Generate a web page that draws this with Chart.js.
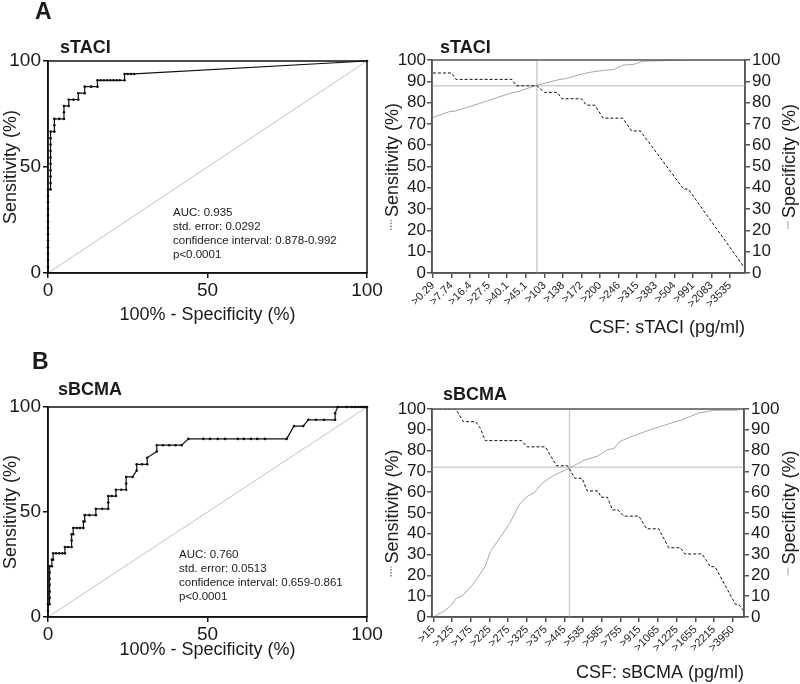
<!DOCTYPE html>
<html>
<head>
<meta charset="utf-8">
<script src="https://cdn.jsdelivr.net/npm/chart.js@4.4.1/dist/chart.umd.min.js"></script>
<style>
  body { margin: 0; background: #fff; }
  #page { position: relative; width: 800px; height: 684px; overflow: hidden; }
  #page canvas { position: absolute; }
</style>
</head>
<body>
<div id="page">
  <canvas id="rocTaci" width="390" height="340" style="left:0;top:0"></canvas>
  <canvas id="cutTaci" width="420" height="340" style="left:380px;top:0"></canvas>
  <canvas id="rocBcma" width="390" height="344" style="left:0;top:340px"></canvas>
  <canvas id="cutBcma" width="420" height="344" style="left:380px;top:340px"></canvas>
</div>
<script>
const FONT = '"Liberation Sans", Arial, sans-serif';
Chart.defaults.font.family = FONT;
Chart.defaults.color = '#1a1a1a';

// --- ROC curves (x = 100% - specificity, y = sensitivity) ---
const taciRocX = [0, 0, 0, 0, 0, 0, 0, 0, 0, 0, 0, 0, 0, 0,
    0.8, 0.8, 0.8, 0.8, 0.8, 0.8, 0.8, 0.8, 0.8, 0.8,
    2.0, 2.0, 2.0, 3.5, 5.0, 5.0, 5.0, 6.5, 6.5, 8.0, 9.5, 9.5, 11.5, 11.5, 13.5, 15.5, 15.5,
    16.5, 17.5, 18.5, 19.5, 20.5, 21.5, 22.5, 24.0, 24.0, 25.0, 26.0, 27.0, 100];
const taciRocY = [0, 3.0, 6.1, 9.1, 12.1, 15.2, 18.2, 21.2, 24.2, 27.3, 30.3, 33.3, 36.4, 39.4,
    39.4, 42.4, 45.5, 48.5, 51.5, 54.5, 57.6, 60.6, 63.6, 66.7,
    66.7, 69.7, 72.7, 72.7, 72.7, 75.8, 78.8, 78.8, 81.8, 81.8, 81.8, 84.8, 84.8, 87.9, 87.9, 87.9, 90.9,
    90.9, 90.9, 90.9, 90.9, 90.9, 90.9, 90.9, 90.9, 93.9, 93.9, 93.9, 93.9, 100];

const bcmaRocX = [0, 0, 0, 0.5, 0.5, 0.5, 0.5, 0.5, 0.5, 0.5, 1.2, 1.2, 1.6, 1.6, 2.5, 3.5, 4.5, 5.3, 5.3,
    6.3, 7.4, 7.4, 7.4, 7.9, 7.9, 9.0, 10.0, 11.1, 11.1, 11.5, 11.5, 13.0, 15.0, 15.0, 17.0, 18.9, 18.9, 18.9,
    20.0, 21.3, 21.3, 23.0, 24.5, 24.5, 24.5, 26.5, 27.8, 27.8, 29.5, 31.1, 31.1, 34.1, 34.1, 36.0, 38.0, 40.0,
    41.9, 44.0, 48.7, 50.8, 53.2, 55.5, 59.5, 61.4, 63.6, 65.6, 68.0, 74.8, 77.1, 80.0, 81.6, 84.0, 86.5, 90.0,
    90.0, 90.8, 93.6, 95.2, 96.2, 97.3, 98.0, 98.8, 99.4, 100];
const bcmaRocY = [0, 3.0, 6.1, 6.1, 9.1, 12.1, 15.2, 18.2, 21.2, 24.2, 24.2, 27.3, 27.3, 30.3, 30.3, 30.3, 30.3, 30.3, 33.3,
    33.3, 33.3, 36.4, 39.4, 39.4, 42.4, 42.4, 42.4, 42.4, 45.5, 45.5, 48.5, 48.5, 48.5, 51.5, 51.5, 51.5, 54.5, 57.6,
    57.6, 57.6, 60.6, 60.6, 60.6, 63.6, 66.7, 66.7, 69.7, 72.7, 72.7, 72.7, 75.8, 78.8, 81.8, 81.8, 81.8, 81.8,
    81.8, 84.8, 84.8, 84.8, 84.8, 84.8, 84.8, 84.8, 84.8, 84.8, 84.8, 84.8, 90.9, 90.9, 93.9, 93.9, 93.9, 93.9,
    97.0, 100, 100, 100, 100, 100, 100, 100, 100, 100];

const chanceLine = [0, 100];
const rocTicks = [0, 50, 100];

const taciStats = ['AUC: 0.935', 'std. error: 0.0292', 'confidence interval: 0.878-0.992', 'p<0.0001'];
const bcmaStats = ['AUC: 0.760', 'std. error: 0.0513', 'confidence interval: 0.659-0.861', 'p<0.0001'];

// --- Sensitivity / specificity per cut-off (x = position along the cut-off axis) ---
const taciCutoffs = ['>0.29', '>7.74', '>16.4', '>27.5', '>40.1', '>45.1', '>103', '>138', '>172',
    '>200', '>246', '>315', '>383', '>504', '>991', '>2083', '>3535'];
const taciSensPos = [0, 1.0, 1.24, 4.25, 4.5, 5.6, 6.0, 6.7, 6.95, 8.0, 8.27, 8.72, 9.17, 10.22, 10.7, 11.17, 13.5, 13.75, 16.74];
const taciSensVal = [93.9, 93.9, 90.9, 90.9, 87.9, 87.9, 84.8, 84.8, 81.8, 81.8, 78.8, 78.8, 72.7, 72.7, 66.7, 66.7, 39.4, 39.4, 3.0];
const taciSpecPos = [0, 0.9, 1.2, 2.5, 4.25, 4.6, 5.6, 6.85, 7.15, 8.1, 8.65, 9.4, 9.75, 10.25, 10.85, 11.3, 12.0, 13.7, 16.8];
const taciSpecVal = [73.0, 75.8, 76.0, 79.6, 84.6, 85.2, 88.2, 90.9, 91.2, 93.6, 94.5, 95.3, 95.5, 97.6, 98.0, 99.4, 99.6, 100, 100];
const taciCross = [5.6, 87.9];
const taciRange = [-0.05, 16.81];

const bcmaCutoffs = ['>15', '>125', '>175', '>225', '>275', '>325', '>375', '>445', '>535',
    '>585', '>755', '>915', '>1065', '>1225', '>1655', '>2215', '>3950'];
const bcmaSensPos = [0, 1.2, 1.6, 2.26, 2.5, 2.78, 4.72, 5.0, 5.98, 6.59, 7.17, 7.56, 7.95, 8.22, 8.8, 8.96,
    9.3, 9.57, 9.86, 10.17, 10.98, 11.4, 12.04, 12.58, 13.2, 13.45, 14.36, 14.8, 15.05, 16.14, 16.32, 16.58];
const bcmaSensVal = [100, 100, 93.9, 93.9, 90.9, 84.8, 84.8, 81.8, 81.8, 72.7, 72.7, 66.7, 66.7, 60.6, 60.6, 57.6,
    57.6, 51.5, 51.5, 48.5, 48.5, 42.4, 42.4, 33.3, 33.3, 30.3, 30.3, 24.2, 24.2, 6.1, 6.1, 3.0];
const bcmaSpecPos = [0, 0.55, 0.9, 1.23, 1.53, 2.0, 2.35, 2.8, 3.05, 3.6, 4.08, 4.6, 5.02, 5.4, 5.75, 6.1, 6.46,
    7.27, 8.06, 8.78, 9.31, 9.66, 9.93, 10.55, 11.27, 12.33, 13.22, 14.2, 15.0, 16.25];
const bcmaSpecVal = [0, 2.7, 5.0, 9.0, 10.0, 14.5, 18.5, 25.0, 31.5, 38.6, 45.0, 54.2, 58.1, 59.7, 63.8, 66.1, 68.2,
    71.6, 75.4, 77.3, 80.5, 81.0, 84.2, 86.6, 89.0, 92.2, 94.6, 98.1, 99.4, 99.4];
const bcmaCross = [7.28, 72.0];
const bcmaRange = [-0.07, 16.6];

const percentTicks = [0, 10, 20, 30, 40, 50, 60, 70, 80, 90, 100];

// Helper to pair x and y lists into chart points
const zip = (xs, ys) => xs.map((x, i) => ({ x, y: ys[i] }));

// Box around the plot area (GraphPad style frame)
const framePlugin = {
    id: 'frame',
    afterDatasetsDraw(chart, args, opts) {
        const { ctx, chartArea: a } = chart;
        ctx.save();
        ctx.strokeStyle = opts.color;
        ctx.lineWidth = opts.width;
        ctx.strokeRect(a.left, a.top, a.right - a.left, a.bottom - a.top);
        ctx.restore();
    }
};

// Free text (panel letters, titles, stats) and rotated axis titles with a line sample
const textPlugin = {
    id: 'panelText',
    afterDraw(chart, args, opts) {
        const ctx = chart.ctx;
        (opts.items || []).forEach(t => {
            ctx.save();
            ctx.font = t.font;
            ctx.fillStyle = '#1a1a1a';
            ctx.textAlign = 'left';
            ctx.textBaseline = 'middle';
            ctx.fillText(t.text, t.x, t.y);
            ctx.restore();
        });
        (opts.axisTitles || []).forEach(t => {
            const a = chart.chartArea;
            const cy = (a.top + a.bottom) / 2;
            ctx.save();
            ctx.font = '18px ' + FONT;
            const tw = ctx.measureText(t.text).width;
            const total = t.sample + 3 + tw;
            ctx.translate(t.x, cy);
            ctx.rotate(-Math.PI / 2);
            ctx.strokeStyle = t.color;
            ctx.lineWidth = 1;
            ctx.setLineDash(t.dash || []);
            ctx.beginPath();
            ctx.moveTo(-total / 2, -2);
            ctx.lineTo(-total / 2 + t.sample, -2);
            ctx.stroke();
            ctx.setLineDash([]);
            ctx.fillStyle = '#1a1a1a';
            ctx.textAlign = 'left';
            ctx.textBaseline = 'middle';
            ctx.fillText(t.text, -total / 2 + t.sample + 3, 0);
            ctx.restore();
        });
    }
};

const axisLook = (color) => ({
    grid: { display: true, drawOnChartArea: false, drawTicks: true, tickLength: 5, color: color, lineWidth: 1.5 },
    border: { display: true, color: color, width: 1.5 }
});

const statsItems = (lines, x, y0) => lines.map((text, i) => ({ text, x, y: y0 + i * 14, font: '11.5px ' + FONT }));

// --- ROC panel ---
const makeRoc = (id, xs, ys, cfg) => new Chart(document.getElementById(id), {
    type: 'scatter',
    data: {
        datasets: [
            {
                data: zip(xs, ys), showLine: true, borderColor: '#111', borderWidth: 1.2,
                pointRadius: 1.3, pointBackgroundColor: '#111', pointBorderWidth: 0, clip: 4
            },
            { data: zip(chanceLine, chanceLine), showLine: true, borderColor: '#c4c4c4', borderWidth: 1, pointRadius: 0 }
        ]
    },
    options: {
        responsive: false,
        animation: false,
        events: [],
        layout: { padding: { left: 0, top: cfg.top, right: 23, bottom: 0 } },
        plugins: {
            legend: { display: false },
            tooltip: { enabled: false },
            frame: { color: '#111', width: 1.5 },
            panelText: { items: cfg.texts }
        },
        scales: {
            x: {
                type: 'linear', min: 0, max: 100,
                afterBuildTicks: s => { s.ticks = rocTicks.map(v => ({ value: v })); },
                ticks: { font: { size: 19 }, padding: 1, maxRotation: 0, autoSkip: false, color: '#1a1a1a' },
                title: { display: true, text: '100% - Specificity (%)', font: { size: 18 }, padding: { top: 0, bottom: cfg.titlePad } },
                afterFit: s => { s.height = cfg.xHeight; s.paddingLeft = 0; s.paddingRight = 0; },
                ...axisLook('#111')
            },
            y: {
                type: 'linear', min: 0, max: 100,
                afterBuildTicks: s => { s.ticks = rocTicks.map(v => ({ value: v })); },
                ticks: { font: { size: 19 }, padding: 2, autoSkip: false, color: '#1a1a1a' },
                title: { display: true, text: 'Sensitivity (%)', font: { size: 18 }, padding: { top: 0, bottom: 0 } },
                afterFit: s => { s.width = 48; s.paddingTop = 0; s.paddingBottom = 0; },
                ...axisLook('#111')
            }
        }
    },
    plugins: [framePlugin, textPlugin]
});

// --- Sensitivity/specificity vs cut-off panel ---
const makeCutoff = (id, cuts, sensPos, sensVal, specPos, specVal, cross, range, cfg) => new Chart(document.getElementById(id), {
    type: 'scatter',
    data: {
        datasets: [
            { data: zip(sensPos, sensVal), showLine: true, borderColor: '#111', borderWidth: 1, borderDash: [3, 2], pointRadius: 0, yAxisID: 'y' },
            { data: zip(specPos, specVal), showLine: true, borderColor: '#a8a8a8', borderWidth: 1, pointRadius: 0, yAxisID: 'y2' },
            { data: zip([cross[0], cross[0]], chanceLine), showLine: true, borderColor: '#cfcfcf', borderWidth: 1.5, pointRadius: 0, yAxisID: 'y' },
            { data: zip(range, [cross[1], cross[1]]), showLine: true, borderColor: '#cfcfcf', borderWidth: 1.5, pointRadius: 0, yAxisID: 'y' }
        ]
    },
    options: {
        responsive: false,
        animation: false,
        events: [],
        layout: { padding: { left: 0, top: cfg.top, right: cfg.right, bottom: 0 } },
        plugins: {
            legend: { display: false },
            tooltip: { enabled: false },
            frame: { color: '#555', width: 1.5 },
            panelText: {
                items: cfg.texts,
                axisTitles: [
                    { text: 'Sensitivity (%)', x: 13, sample: 10, color: '#333', dash: [1.5, 1.5] },
                    { text: 'Specificity (%)', x: 410, sample: 8, color: '#a0a0a0' }
                ]
            }
        },
        scales: {
            x: {
                type: 'linear', min: range[0], max: range[1],
                afterBuildTicks: s => { s.ticks = cuts.map((c, i) => ({ value: i })); },
                ticks: { callback: v => cuts[v], font: { size: 11 }, minRotation: 45, maxRotation: 45, autoSkip: false, padding: 1, color: '#1a1a1a' },
                title: { display: true, text: cfg.xTitle, align: 'end', font: { size: 18 }, padding: { top: 0, bottom: cfg.titlePad } },
                afterFit: s => { s.height = cfg.xHeight; s.paddingLeft = 0; s.paddingRight = 0; },
                ...axisLook('#555')
            },
            y: {
                type: 'linear', position: 'left', min: 0, max: 100,
                afterBuildTicks: s => { s.ticks = percentTicks.map(v => ({ value: v })); },
                ticks: { font: { size: 17 }, padding: 1, autoSkip: false, color: '#1a1a1a' },
                afterFit: s => { s.width = 52; s.paddingTop = 0; s.paddingBottom = 0; },
                ...axisLook('#555')
            },
            y2: {
                type: 'linear', position: 'right', min: 0, max: 100,
                afterBuildTicks: s => { s.ticks = percentTicks.map(v => ({ value: v })); },
                ticks: { font: { size: 17 }, padding: 2, autoSkip: false, color: '#1a1a1a' },
                afterFit: s => { s.width = 55; s.paddingTop = 0; s.paddingBottom = 0; },
                ...axisLook('#555')
            }
        }
    },
    plugins: [framePlugin, textPlugin]
});

makeRoc('rocTaci', taciRocX, taciRocY, {
    top: 61, xHeight: 67, titlePad: 14,
    texts: [
        { text: 'A', x: 35, y: 13, font: 'bold 23px ' + FONT },
        { text: 'sTACI', x: 60, y: 48, font: 'bold 18px ' + FONT },
        ...statsItems(taciStats, 173, 213)
    ]
});

makeRoc('rocBcma', bcmaRocX, bcmaRocY, {
    top: 67, xHeight: 67, titlePad: 23,
    texts: [
        { text: 'B', x: 32, y: 23, font: 'bold 23px ' + FONT },
        { text: 'sBCMA', x: 58, y: 50, font: 'bold 18px ' + FONT },
        ...statsItems(bcmaStats, 179, 215)
    ]
});

makeCutoff('cutTaci', taciCutoffs, taciSensPos, taciSensVal, taciSpecPos, taciSpecVal, taciCross, taciRange, {
    top: 60, right: 0, xHeight: 67, titlePad: 1, xTitle: 'CSF: sTACI (pg/ml)',
    texts: [{ text: 'sTACI', x: 60, y: 48, font: 'bold 18px ' + FONT }]
});

makeCutoff('cutBcma', bcmaCutoffs, bcmaSensPos, bcmaSensVal, bcmaSpecPos, bcmaSpecVal, bcmaCross, bcmaRange, {
    top: 69, right: 1, xHeight: 67, titlePad: 0, xTitle: 'CSF: sBCMA (pg/ml)',
    texts: [{ text: 'sBCMA', x: 63, y: 55, font: 'bold 18px ' + FONT }]
});
</script>
</body>
</html>
